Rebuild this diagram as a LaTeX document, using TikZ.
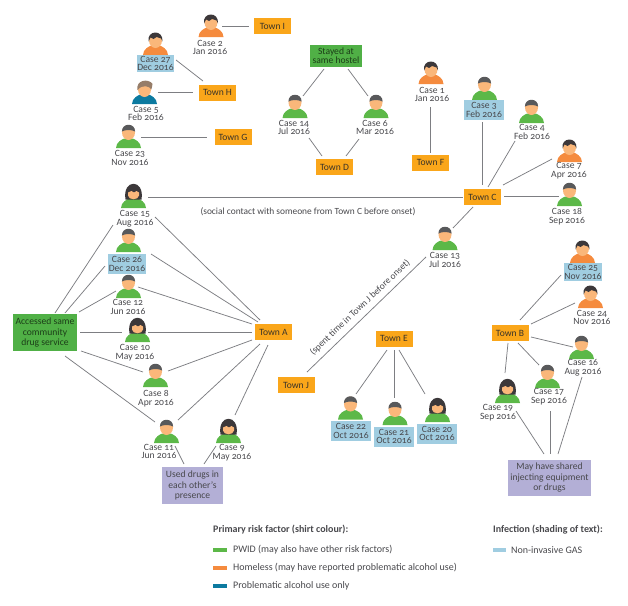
\documentclass[tikz,border=0pt]{standalone}
\usepackage{fontspec}
\setmainfont[Numbers=OldStyle]{Carlito}
\usepackage{xcolor}
\usetikzlibrary{positioning}
\definecolor{ShirtGreen}{RGB}{92,184,72}
\definecolor{ShirtOrange}{RGB}{245,139,62}
\definecolor{ShirtBlue}{RGB}{12,122,160}
\definecolor{BoxOrange}{RGB}{250,166,26}
\definecolor{BoxGreen}{RGB}{80,176,70}
\definecolor{BoxPurple}{RGB}{179,175,214}
\definecolor{GasBlue}{RGB}{160,205,225}
\definecolor{SkinTone}{RGB}{250,183,122}
\definecolor{HairGrey}{RGB}{88,89,91}
\definecolor{HairDark}{RGB}{60,56,58}
\definecolor{HairBrown}{RGB}{150,125,105}
\definecolor{InkGrey}{RGB}{72,72,76}
\definecolor{LineGrey}{RGB}{125,126,130}

\begin{document}
\begin{tikzpicture}[
  x=1pt, y=-1pt,
  every node/.style={font=\fontsize{9.6}{8.7}\selectfont, text=InkGrey, inner sep=0pt},
  casetext/.style={align=center},
  gascase/.style={casetext, fill=GasBlue, minimum width=#1, minimum height=20pt},
  gascase/.default=38pt,
  town/.style={fill=BoxOrange, minimum width=37pt, minimum height=16pt, text=InkGrey!85!BoxOrange!60!black},
  greenbox/.style={fill=BoxGreen, align=center, text=black!65!BoxGreen},
  purplebox/.style={fill=BoxPurple, align=center},
  link/.style={draw=LineGrey, line width=0.75pt},
  note/.style={font=\fontsize{9.4}{9}\selectfont},
  swatch/.style={minimum width=13.5pt, minimum height=4.5pt},
  legend/.style={anchor=west, font=\fontsize{10}{10}\selectfont},
  legendhead/.style={anchor=west, font=\fontsize{10}{10}\selectfont\bfseries},
  % person icons, origin at the middle of the shirt hem
  shirt/.pic={\fill[#1] (-12.5,0) .. controls (-12.5,-6) and (-6,-9) .. (-4,-9.5) -- (4,-9.5) .. controls (6,-9) and (12.5,-6) .. (12.5,0) -- cycle;},
  bald/.pic={
    \pic {shirt=#1};
    \fill[SkinTone] (0,-15.5) ellipse (6.5 and 7.5);
    \fill[HairGrey] (-6.6,-16.5) .. controls (-6.6,-25.5) and (6.6,-25.5) .. (6.6,-16.5) .. controls (3,-18.5) and (-3,-18.5) .. (-6.6,-16.5) -- cycle;
  },
  man/.pic={
    \pic {shirt=#1};
    \fill[SkinTone] (0,-14.5) ellipse (6.5 and 7.5);
    \fill[HairDark] (-7,-13.5) .. controls (-9,-25) and (8,-26) .. (7,-13.5) -- (5.5,-16.5) -- (1,-18) -- (-2,-16) -- (-5,-17.5) -- cycle;
  },
  woman/.pic={
    \pic {shirt=#1};
    \fill[HairDark] (-8,-8.5) .. controls (-11.5,-29.5) and (11.5,-29.5) .. (8,-8.5) -- cycle;
    \fill[SkinTone] (-5.5,-15.5) -- (-2,-17) -- (0.5,-15.5) -- (3,-17) -- (5.5,-15.5) -- (5.5,-12.5) .. controls (5,-7.5) and (-5,-7.5) .. (-5.5,-12.5) -- cycle;
  },
  greyhair/.pic={
    \pic {shirt=#1};
    \fill[SkinTone] (0,-14.5) ellipse (6.5 and 7.5);
    \fill[HairBrown] (-7,-14) .. controls (-9,-24) and (4,-26) .. (8,-20) .. controls (8,-18) and (7,-16) .. (6.8,-14.5) .. controls (5,-18) and (-2,-20) .. (-7,-14) -- cycle;
  }
]
\useasboundingbox (0,0) rectangle (628,605);

% Towns
\node[town] (townI) at (272.5,26) {Town I};
\node[town] (townH) at (217.5,92.5) {Town H};
\node[town] (townG) at (233,137) {Town G};
\node[town] (townD) at (334.5,167) {Town D};
\node[town] (townF) at (430.5,162.5) {Town F};
\node[town] (townC) at (482.5,197) {Town C};
\node[town] (townA) at (273.5,332) {Town A};
\node[town] (townJ) at (296,385) {Town J};
\node[town] (townE) at (394,338.5) {Town E};
\node[town] (townB) at (510,333) {Town B};

% Shared settings
\node[greenbox, minimum width=52pt, minimum height=22pt] (hostel) at (336,56) {Stayed at\\same hostel};
\node[greenbox, minimum width=64pt, minimum height=37pt, font=\fontsize{9.6}{10.6}\selectfont] (service) at (45,332.5) {Accessed same\\community\\drug service};
\node[purplebox, minimum width=61pt, minimum height=37pt, font=\fontsize{9.6}{10.6}\selectfont] (usedrugs) at (192.5,485.5) {Used drugs in\\each other's\\presence};
\node[purplebox, minimum width=83pt, minimum height=36pt, font=\fontsize{9.6}{10.6}\selectfont] (shared) at (549.5,477.5) {May have shared\\injecting equipment\\or drugs};

% Top-left cases
\pic at (211,37) {man=ShirtOrange};
\node[casetext] (c2) at (210,47.5) {Case 2\\Jan 2016};
\pic at (155.5,55) {man=ShirtOrange};
\node[gascase=37pt, minimum height=17pt] (c27) at (155.5,63.5) {Case 27\\Dec 2016};
\pic at (144.5,104) {greyhair=ShirtBlue};
\node[casetext] (c5) at (146,113.5) {Case 5\\Feb 2016};
\pic at (128.5,148) {bald=ShirtGreen};
\node[casetext] (c23) at (130,158) {Case 23\\Nov 2016};

% Hostel pair
\pic at (295,118) {bald=ShirtGreen};
\node[casetext] (c14) at (294,127.5) {Case 14\\Jul 2016};
\pic at (376,118) {bald=ShirtGreen};
\node[casetext] (c6) at (375,127.5) {Case 6\\Mar 2016};

% Town F and Town C cases
\pic at (431,84) {man=ShirtOrange};
\node[casetext] (c1) at (432,94.5) {Case 1\\Jan 2016};
\pic at (484.5,100) {bald=ShirtGreen};
\node[gascase=40pt] (c3) at (484,110) {Case 3\\Feb 2016};
\pic at (531.5,123) {bald=ShirtGreen};
\node[casetext] (c4) at (532,132) {Case 4\\Feb 2016};
\pic at (569.5,162) {man=ShirtOrange};
\node[casetext] (c7) at (569,170.5) {Case 7\\Apr 2016};
\pic at (569.5,206) {bald=ShirtGreen};
\node[casetext] (c18) at (567,216.5) {Case 18\\Sep 2016};
\pic at (445,250) {bald=ShirtGreen};
\node[casetext] (c13) at (445,260) {Case 13\\Jul 2016};

% Town A cases
\pic at (133.5,208) {woman=ShirtGreen};
\node[casetext] (c15) at (135,218.5) {Case 15\\Aug 2016};
\pic at (128.5,252) {bald=ShirtGreen};
\node[gascase] (c26) at (127,264) {Case 26\\Dec 2016};
\pic at (128.5,298) {bald=ShirtGreen};
\node[casetext] (c12) at (128,307) {Case 12\\Jun 2016};
\pic at (137.5,342) {woman=ShirtGreen};
\node[casetext] (c10) at (135,352.5) {Case 10\\May 2016};
\pic at (155.5,387) {bald=ShirtGreen};
\node[casetext] (c8) at (156,399) {Case 8\\Apr 2016};
\pic at (166.5,443) {bald=ShirtGreen};
\node[casetext] (c11) at (159,451.5) {Case 11\\Jun 2016};
\pic at (228.5,443) {woman=ShirtGreen};
\node[casetext] (c9) at (232,452.5) {Case 9\\May 2016};

% Town E cases
\pic at (350.5,419.5) {bald=ShirtGreen};
\node[gascase=40pt] (c22) at (351,431) {Case 22\\Oct 2016};
\pic at (395,425) {bald=ShirtGreen};
\node[gascase=40pt] (c21) at (394,436.5) {Case 21\\Oct 2016};
\pic at (437.5,422) {woman=ShirtGreen};
\node[gascase=40pt] (c20) at (437,433.5) {Case 20\\Oct 2016};

% Town B cases
\pic at (582.5,263) {man=ShirtOrange};
\node[gascase, minimum height=18pt] (c25) at (583,272) {Case 25\\Nov 2016};
\pic at (590.5,308) {man=ShirtOrange};
\node[casetext] (c24) at (592,317.5) {Case 24\\Nov 2016};
\pic at (581.5,359) {bald=ShirtGreen};
\node[casetext] (c16) at (583,367.5) {Case 16\\Aug 2016};
\pic at (547.5,388) {bald=ShirtGreen};
\node[casetext] (c17) at (549,396.5) {Case 17\\Sep 2016};
\pic at (507.5,403) {woman=ShirtGreen};
\node[casetext] (c19) at (498,412.5) {Case 19\\Sep 2016};

% Links in the top-left group
\draw[link] ([shift={(12,-21.5)}]c2.center) -- ([shift={(-23.5,0)}]townI.center);
\draw[link] ([shift={(20.5,-3.5)}]c27.center) -- ([shift={(-14.5,-11.5)}]townH.center);
\draw[link] ([shift={(12,-21)}]c5.center) -- ([shift={(-24.5,0)}]townH.center);
\draw[link] ([shift={(11,-21)}]c23.center) -- ([shift={(-26,0)}]townG.center);

% Hostel diamond
\draw[link] ([shift={(-12,13)}]hostel.center) -- ([shift={(9,-31.5)}]c14.center);
\draw[link] ([shift={(12,13)}]hostel.center) -- ([shift={(-7,-31.5)}]c6.center);
\draw[link] ([shift={(15,10.5)}]c14.center) -- ([shift={(-12.5,-11)}]townD.center);
\draw[link] ([shift={(-16,11.5)}]c6.center) -- ([shift={(11.5,-11)}]townD.center);
\draw[link] ([shift={(-1.5,12.5)}]c1.center) -- ([shift={(0,-9.5)}]townF.center);

% Town C
\draw[link] ([shift={(-2,12)}]c3.center) -- ([shift={(-0.5,-12)}]townC.center);
\draw[link] ([shift={(-17,9)}]c4.center) -- ([shift={(5.5,-10)}]townC.center);
\draw[link] ([shift={(-17,-11.5)}]c7.center) -- ([shift={(20.5,-12)}]townC.center);
\draw[link] ([shift={(-8,-20.5)}]c18.center) -- ([shift={(21.5,-1)}]townC.center);
\draw[link] ([shift={(13,-21.5)}]c15.center) -- ([shift={(-19.5,0)}]townC.center);
\draw[link] ([shift={(-9.5,10)}]townC.center) -- ([shift={(8,-32)}]c13.center);
\draw[link] ([shift={(-19,-3)}]c13.center) -- ([shift={(11,-13)}]townJ.center);
\node[note] (contactnote) at (308,212) {(social contact with someone from Town C before onset)};
\node[note, rotate=43.5] (travelnote) at (360,307.5) {(spent time in Town J before onset)};

% Drug service
\draw[link] ([shift={(10,-19.5)}]service.center) -- ([shift={(-22,6.5)}]c15.center);
\draw[link] ([shift={(20,-19.5)}]service.center) -- ([shift={(-22,2)}]c26.center);
\draw[link] ([shift={(34,-20.5)}]service.center) -- ([shift={(-12,-16)}]c12.center);
\draw[link] ([shift={(35,-0.5)}]service.center) -- ([shift={(-13,-20.5)}]c10.center);
\draw[link] ([shift={(36,18.5)}]service.center) -- ([shift={(-13,-27)}]c8.center);
\draw[link] ([shift={(20,23.5)}]service.center) -- ([shift={(-4,-29.5)}]c11.center);

% Town A
\draw[link] ([shift={(20,-1.5)}]c15.center) -- ([shift={(-13.5,-12)}]townA.center);
\draw[link] ([shift={(24,-10)}]c26.center) -- ([shift={(-15.5,-10)}]townA.center);
\draw[link] ([shift={(10,-20)}]c12.center) -- ([shift={(-21.5,-8)}]townA.center);
\draw[link] ([shift={(13,-20.5)}]c10.center) -- ([shift={(-21.5,0)}]townA.center);
\draw[link] ([shift={(12,-28)}]c8.center) -- ([shift={(-21.5,8)}]townA.center);
\draw[link] ([shift={(19,-31.5)}]c11.center) -- ([shift={(-13.5,12)}]townA.center);
\draw[link] ([shift={(3,-37.5)}]c9.center) -- ([shift={(-5.5,13)}]townA.center);
\draw[link] ([shift={(16,-5.5)}]c11.center) -- ([shift={(-8.5,-21.5)}]usedrugs.center);
\draw[link] ([shift={(-16,-6.5)}]c9.center) -- ([shift={(11.5,-21.5)}]usedrugs.center);

% Town E
\draw[link] ([shift={(-7,11.5)}]townE.center) -- ([shift={(5,-37)}]c22.center);
\draw[link] ([shift={(0,11.5)}]townE.center) -- ([shift={(0,-38.5)}]c21.center);
\draw[link] ([shift={(5,11.5)}]townE.center) -- ([shift={(-12,-39.5)}]c20.center);

% Town B and shared equipment
\draw[link] ([shift={(10,-13)}]townB.center) -- ([shift={(-22,3)}]c25.center);
\draw[link] ([shift={(21,-9)}]townB.center) -- ([shift={(-17,-14.5)}]c24.center);
\draw[link] ([shift={(21,4)}]townB.center) -- ([shift={(-10,-20.5)}]c16.center);
\draw[link] ([shift={(8,10)}]townB.center) -- ([shift={(-10,-31.5)}]c17.center);
\draw[link] ([shift={(-2,10)}]townB.center) -- ([shift={(7,-39.5)}]c19.center);
\draw[link] ([shift={(18,-1.5)}]c19.center) -- ([shift={(-5.5,-23.5)}]shared.center);
\draw[link] ([shift={(1,14.5)}]c17.center) -- ([shift={(0.5,-23.5)}]shared.center);
\draw[link] ([shift={(-1,9.5)}]c16.center) -- ([shift={(8.5,-23.5)}]shared.center);

% Key: shirt colour
\node[legendhead] (riskhead) at (213,530) {Primary risk factor (shirt colour):};
\node[swatch, fill=ShirtGreen] (keygreen) at (220,550) {};
\node[legend, right=6pt of keygreen] (pwid) {PWID (may also have other risk factors)};
\node[swatch, fill=ShirtOrange, below=13pt of keygreen] (keyorange) {};
\node[legend, right=6pt of keyorange] (homeless) {Homeless (may have reported problematic alcohol use)};
\node[swatch, fill=ShirtBlue, below=13pt of keyorange] (keyblue) {};
\node[legend, right=6pt of keyblue] (alcohol) {Problematic alcohol use only};

% Key: text shading
\node[legendhead] (infecthead) at (493,530) {Infection (shading of text):};
\node[swatch, fill=GasBlue] (keygas) at (499.5,550) {};
\node[legend, right=4.5pt of keygas] (gas) {Non-invasive GAS};

\end{tikzpicture}
\end{document}
